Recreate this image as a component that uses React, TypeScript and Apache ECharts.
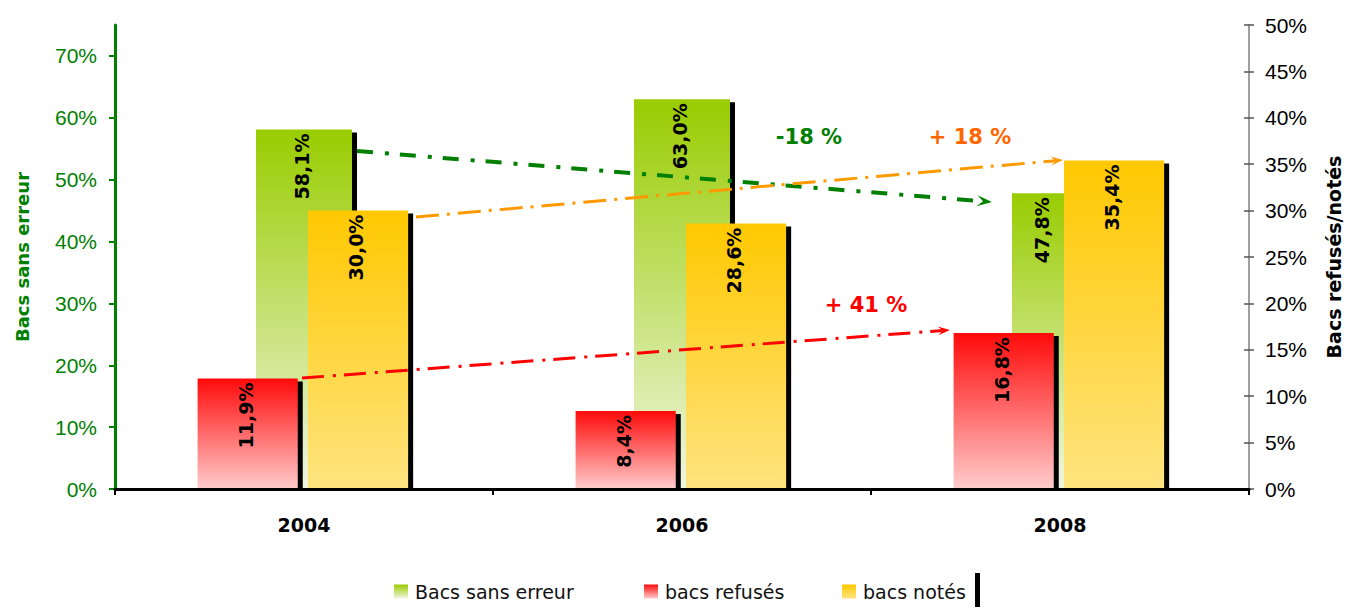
import React, { useEffect, useRef } from 'react';
import * as echarts from 'echarts';

const years = ['2004', '2006', '2008'];
const sansErreur = [58.1, 63.0, 47.8];
const refuses = [11.9, 8.4, 16.8];
const notes = [30.0, 28.6, 35.4];
const leftTicks = [0, 10, 20, 30, 40, 50, 60, 70];
const seriesNames = ['Bacs sans erreur', 'bacs refusés', 'bacs notés'];
const trendLabels = ['-18 %', '+ 18 %', '+ 41 %'];

const FONT = '"DejaVu Sans", Verdana, sans-serif';
const ARIAL = '"Liberation Sans", Arial, sans-serif';

const GREEN_GRAD: [string, string] = ['#99CC00', '#F0F6E2'];
const RED_GRAD: [string, string] = ['#FF0A0A', '#FFCCCC'];
const YELLOW_GRAD: [string, string] = ['#FFC800', '#FFE480'];

// annotation layout (pixels)
const arrows = [
  { from: [357, 151], to: [992, 202], color: '#008000', width: 4, dash: [16, 12, 4, 11], head: [15, 11] },
  { from: [416, 217], to: [1063, 160], color: '#FF9900', width: 3, dash: [23, 8, 3, 8], head: [12, 9] },
  { from: [302, 378], to: [950, 330], color: '#FF0000', width: 3, dash: [22, 9, 3, 8], head: [12, 9] },
];
const trendPos = [
  { x: 809, y: 137, color: '#008000' },
  { x: 970, y: 137, color: '#FF6600' },
  { x: 866, y: 305, color: '#FF0000' },
];
const legendLeft = [394, 644, 842];
const greenLabelShift = [0, 0, -16];

function grad(top: string, bottom: string) {
  return new echarts.graphic.LinearGradient(0, 0, 0, 1, [
    { offset: 0, color: top },
    { offset: 1, color: bottom },
  ]);
}

function fmt(v: number) {
  return v.toFixed(1).replace('.', ',') + '%';
}

function makeBarSeries(
  name: string,
  values: number[],
  yAxisIndex: number,
  offsetFrac: number,
  widthFrac: number,
  colors: [string, string],
  labelShift: number[],
  z: number
) {
  return {
    type: 'custom',
    name,
    coordinateSystem: 'cartesian2d',
    xAxisIndex: 0,
    yAxisIndex,
    z,
    itemStyle: { color: grad(colors[0], colors[1]) },
    encode: { x: 0, y: 1 },
    data: values.map((v, i) => [i, v]),
    renderItem: (params: any, api: any) => {
      const idx = api.value(0);
      const val = api.value(1);
      const band = api.size([1, 0])[0];
      const base = api.coord([idx, 0]);
      const top = api.coord([idx, val]);
      const w = band * widthFrac;
      const cx = base[0] + band * offsetFrac;
      const x0 = cx - w / 2;
      const h = base[1] - top[1];
      const shift = labelShift[params.dataIndex] || 0;
      return {
        type: 'group',
        children: [
          {
            type: 'rect',
            shape: { x: x0 + 5, y: top[1] + 3, width: w, height: h - 3 },
            style: { fill: '#000' },
          },
          {
            type: 'rect',
            shape: { x: x0, y: top[1], width: w, height: h },
            style: { fill: grad(colors[0], colors[1]) },
          },
          {
            type: 'text',
            x: cx - 2 + shift,
            y: top[1] + 4,
            rotation: Math.PI / 2,
            style: {
              text: fmt(val),
              fill: '#000',
              font: `bold 19px ${FONT}`,
              align: 'right',
              verticalAlign: 'middle',
            },
          },
        ],
      };
    },
  };
}

function arrowGraphic(a: any) {
  const [x1, y1] = a.from;
  const [x2, y2] = a.to;
  const dx = x2 - x1;
  const dy = y2 - y1;
  const len = Math.hypot(dx, dy);
  const ux = dx / len;
  const uy = dy / len;
  const px = -uy;
  const py = ux;
  const L = a.head[0];
  const W = a.head[1] / 2;
  const bx = x2 - ux * L;
  const by = y2 - uy * L;
  const nx = x2 - ux * L * 0.6;
  const ny = y2 - uy * L * 0.6;
  return [
    {
      type: 'polyline',
      z: 20,
      shape: { points: [[x1, y1], [nx, ny]] },
      style: { stroke: a.color, lineWidth: a.width, lineDash: a.dash },
    },
    {
      type: 'polygon',
      z: 21,
      shape: {
        points: [
          [x2, y2],
          [bx + px * W, by + py * W],
          [nx, ny],
          [bx - px * W, by - py * W],
        ],
      },
      style: { fill: a.color },
    },
  ];
}

export default function App() {
  const ref = useRef<HTMLDivElement>(null);
  useEffect(() => {
    if (!ref.current) return;
    const chart = echarts.init(ref.current, null, { renderer: 'svg' });
    const grads = [GREEN_GRAD, RED_GRAD, YELLOW_GRAD];
    const graphics: any[] = [];
    arrows.forEach((a) => graphics.push(...arrowGraphic(a)));
    trendLabels.forEach((t, i) =>
      graphics.push({
        type: 'text',
        z: 22,
        x: trendPos[i].x,
        y: trendPos[i].y,
        style: {
          text: t,
          fill: trendPos[i].color,
          font: `bold 21px ${FONT}`,
          align: 'center',
          verticalAlign: 'middle',
        },
      })
    );
    graphics.push({
      type: 'rect',
      z: 22,
      shape: { x: 975, y: 573, width: 5, height: 34 },
      style: { fill: '#000' },
    });

    chart.setOption({
      animation: false,
      backgroundColor: '#fff',
      grid: { left: 115, right: 96, top: 25, bottom: 119, containLabel: false, outerBoundsMode: 'none' },
      legend: seriesNames.map((n, i) => ({
        data: [{ name: n, itemStyle: { color: grad(grads[i][0], grads[i][1]) } }],
        left: legendLeft[i],
        top: 582,
        padding: 0,
        icon: 'rect',
        itemWidth: 14,
        itemHeight: 14,
        selectedMode: false,
        textStyle: { fontFamily: FONT, fontSize: 19, color: '#111', padding: [0, 0, 0, 2] },
      })),
      xAxis: [
        {
          type: 'category',
          data: years,
          z: 10,
          axisLine: { show: true, lineStyle: { color: '#000', width: 3 } },
          axisTick: { show: true, length: 6, lineStyle: { color: '#000', width: 2 } },
          axisLabel: {
            color: '#000',
            fontFamily: FONT,
            fontWeight: 'bold',
            fontSize: 19,
            margin: 26,
          },
          splitLine: { show: false },
        },
      ],
      yAxis: [
        {
          type: 'value',
          position: 'left',
          min: 0,
          max: 75,
          name: 'Bacs sans erreur',
          nameLocation: 'middle',
          nameRotate: 90,
          nameGap: 84,
          nameTextStyle: { color: '#008000', fontFamily: FONT, fontWeight: 'bold', fontSize: 18 },
          axisLine: { show: true, lineStyle: { color: '#008000', width: 3 } },
          axisTick: {
            show: true,
            customValues: leftTicks,
            length: 6,
            lineStyle: { color: '#008000', width: 2 },
          },
          axisLabel: {
            customValues: leftTicks,
            formatter: '{value}%',
            color: '#008000',
            fontFamily: ARIAL,
            fontSize: 21,
            margin: 18,
          },
          splitLine: { show: false },
        },
        {
          type: 'value',
          position: 'right',
          min: 0,
          max: 50,
          interval: 5,
          name: 'Bacs refusés/notés',
          nameLocation: 'middle',
          nameRotate: 90,
          nameGap: 75,
          nameTextStyle: { color: '#000', fontFamily: FONT, fontWeight: 'bold', fontSize: 19 },
          axisLine: { show: true, lineStyle: { color: '#7F7F7F', width: 1.5 } },
          axisTick: { show: true, length: 5, lineStyle: { color: '#555', width: 1.5 } },
          axisLabel: {
            formatter: '{value}%',
            color: '#000',
            fontFamily: ARIAL,
            fontSize: 21,
            margin: 16,
          },
          splitLine: { show: false },
        },
        {
          type: 'value',
          position: 'right',
          min: 0,
          max: 50,
          interval: 5,
          axisLine: { show: false },
          axisTick: { show: true, inside: true, length: 5, lineStyle: { color: '#555', width: 1.5 } },
          axisLabel: { show: false },
          splitLine: { show: false },
        },
      ],
      series: [
        makeBarSeries(seriesNames[0], sansErreur, 0, 0, 0.254, GREEN_GRAD, greenLabelShift, 2),
        makeBarSeries(seriesNames[1], refuses, 1, -0.149, 0.265, RED_GRAD, [0, 0, 0], 3),
        makeBarSeries(seriesNames[2], notes, 1, 0.143, 0.265, YELLOW_GRAD, [0, 0, 0], 3),
      ],
      graphic: graphics,
    });
    return () => chart.dispose();
  }, []);
  return (
    <div
      ref={ref}
      style={{ position: 'fixed', left: 0, top: 0, width: 1345, height: 608, background: '#fff' }}
    />
  );
}
